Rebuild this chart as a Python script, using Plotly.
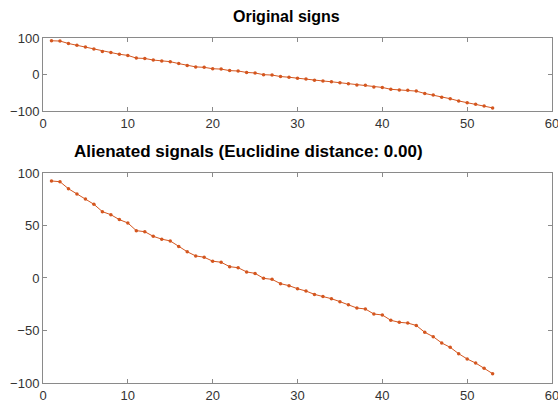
import plotly.graph_objects as go

idx = list(range(1, 54))
original = [92.4, 91.7, 85, 80, 75.2, 70.2, 63.2, 60.3, 55.6, 52.4,
            45.1, 44.1, 39.7, 37, 35.3, 30, 25, 21, 19.8, 16,
            15, 10.8, 9.8, 5.8, 4.4, -0.3, -1.3, -5.4, -7.3, -10.2,
            -12.4, -15.6, -17.5, -19.7, -22.5, -25.4, -28.6, -29.5, -34.3, -35.2,
            -40.3, -42.2, -42.9, -45.2, -51.7, -55.9, -61.9, -66, -72.1, -77.1,
            -81, -86, -91.1]
aligned = list(original)

top_title = "Original signs"
bottom_title = "Alienated signals (Euclidine distance: 0.00)"
x_ticks = [0, 10, 20, 30, 40, 50, 60]
y_ticks_top = [-100, 0, 100]
y_ticks_bottom = [-100, -50, 0, 50, 100]

color = "#D4561F"
font = "Liberation Sans, Arial, sans-serif"

fig = go.Figure()
fig.add_trace(go.Scatter(x=idx, y=original, mode="lines+markers", xaxis="x", yaxis="y",
                         line=dict(color=color, width=1), marker=dict(color=color, size=3.5)))
fig.add_trace(go.Scatter(x=idx, y=aligned, mode="lines+markers", xaxis="x2", yaxis="y2",
                         line=dict(color=color, width=1), marker=dict(color=color, size=3.5)))

axis_common = dict(showline=True, mirror="ticks", linecolor="#8a8a8a", linewidth=1,
                   ticks="inside", ticklen=4, tickcolor="#8a8a8a", showgrid=False, zeroline=False,
                   ticklabeloverflow="allow", automargin=False,
                   tickfont=dict(family=font, size=13, color="#333333"))

fig.update_layout(
    width=558, height=404,
    margin=dict(l=43, r=6, t=38, b=21),
    paper_bgcolor="white", plot_bgcolor="white",
    showlegend=False,
    xaxis=dict(domain=[0, 1], anchor="y", range=[0, 60], tickvals=x_ticks, **axis_common),
    yaxis=dict(domain=[0.788, 1], anchor="x", range=[-100, 100], tickvals=y_ticks_top, **axis_common),
    xaxis2=dict(domain=[0, 1], anchor="y2", range=[0, 60], tickvals=x_ticks, **axis_common),
    yaxis2=dict(domain=[0, 0.6087], anchor="x2", range=[-100, 100], tickvals=y_ticks_bottom, **axis_common),
    annotations=[
        dict(text="<b>" + top_title + "</b>", x=0.479, y=1.061, xref="paper", yref="paper",
             xanchor="center", yanchor="middle", showarrow=False,
             font=dict(family=font, size=16, color="black")),
        dict(text="<b>" + bottom_title + "</b>", x=0.403, y=0.672, xref="paper", yref="paper",
             xanchor="center", yanchor="middle", showarrow=False,
             font=dict(family=font, size=17, color="black")),
    ],
)

fig.write_html("out.html")
